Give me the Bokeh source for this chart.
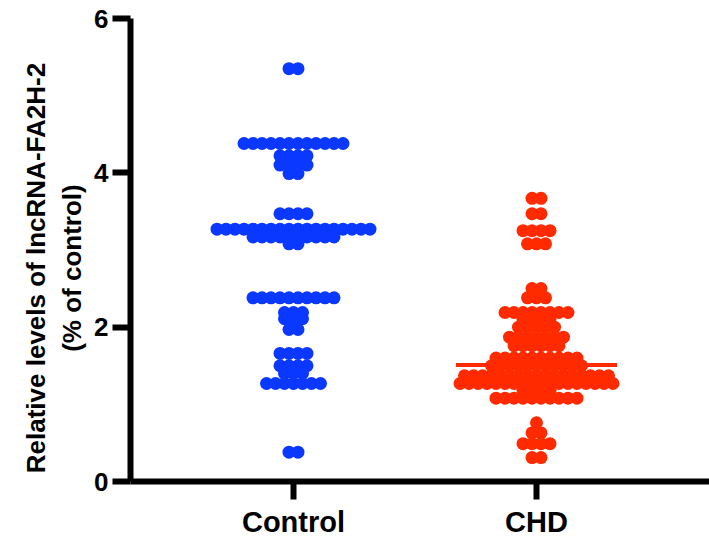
from bokeh.plotting import figure
from bokeh.models import Range1d, FixedTicker, ColumnDataSource
from bokeh.embed import file_html
from bokeh.resources import INLINE

# ---- data ----
categories = ["Control", "CHD"]
category_pos = [1, 2]

control_levels = [5.35, 4.38, 4.22, 4.10, 3.99, 3.47, 3.27, 3.17, 3.08,
                  2.38, 2.19, 2.11, 1.97, 1.66, 1.50, 1.40, 1.27, 0.38]
control_counts = [2, 12, 4, 4, 2, 4, 18, 10, 2,
                  10, 3, 3, 2, 4, 4, 3, 7, 2]

chd_levels = [3.67, 3.47, 3.25, 3.08, 2.50, 2.38, 2.19, 2.10, 2.00, 1.87,
              1.76, 1.60, 1.50, 1.37, 1.27, 1.18, 1.08, 0.76, 0.63, 0.49, 0.31]
chd_counts = [2, 2, 4, 3, 2, 3, 8, 4, 5, 7,
              6, 10, 11, 17, 18, 4, 10, 1, 2, 4, 2]

group_means = [3.27, 1.51]
yticks = [0, 2, 4, 6]

colors = ["#0a38ff", "#ff2a00"]

# ---- layout helpers ----
PX_PER_UNIT_X = 243.0
spacing = 9.0 / PX_PER_UNIT_X
half_line = 80.5 / PX_PER_UNIT_X


def rows(levels, counts, center):
    xs, ys = [], []
    for v, n in zip(levels, counts):
        for i in range(n):
            xs.append(center + (i - (n - 1) / 2.0) * spacing)
            ys.append(v)
    return xs, ys


x0 = 1 - 163.0 / PX_PER_UNIT_X
x1 = x0 + 579.0 / PX_PER_UNIT_X

p = figure(width=709, height=540, x_range=Range1d(x0, x1), y_range=Range1d(0, 6),
           output_backend="svg", toolbar_location=None,
           min_border_left=130, min_border_right=0, min_border_top=18, min_border_bottom=59)

groups = [(control_levels, control_counts), (chd_levels, chd_counts)]
for (lv, ct), c, col, m in zip(groups, category_pos, colors, group_means):
    xs, ys = rows(lv, ct, c)
    src = ColumnDataSource(dict(x=xs, y=ys))
    p.scatter("x", "y", source=src, size=13, fill_color=col, line_color=None)
    p.segment(x0=[c - half_line], x1=[c + half_line], y0=[m], y1=[m],
              line_color=col, line_width=4)

font = "Liberation Sans"
for ax in (p.xaxis, p.yaxis):
    ax.axis_line_width = 6
    ax.axis_line_color = "black"
    ax.major_tick_line_width = 6
    ax.major_tick_out = 18
    ax.major_tick_in = 0
    ax.minor_tick_out = 0
    ax.minor_tick_in = 0
    ax.major_label_text_font = font
    ax.major_label_text_font_style = "bold"
    ax.major_label_text_color = "black"

p.xaxis.ticker = FixedTicker(ticks=category_pos)
p.xaxis.major_label_overrides = {pos: name for pos, name in zip(category_pos, categories)}
p.xaxis.major_label_text_font_size = "29px"
p.xaxis.major_label_standoff = 6

pad = "\u00a0" * 5
p.yaxis.ticker = FixedTicker(ticks=yticks)
p.yaxis.major_label_text_font_size = "26px"
p.yaxis.major_label_standoff = 4
p.yaxis.axis_label = "Relative levels of lncRNA-FA2H-2" + pad + "\n(% of control)" + pad
p.yaxis.axis_label_text_font = font
p.yaxis.axis_label_text_font_style = "bold"
p.yaxis.axis_label_text_font_size = "26px"
p.yaxis.axis_label_text_color = "black"
p.yaxis.axis_label_standoff = 4

p.xgrid.visible = False
p.ygrid.visible = False
p.outline_line_color = None
p.background_fill_color = "white"
p.border_fill_color = "white"

open("out.html", "w").write(file_html(p, INLINE))
